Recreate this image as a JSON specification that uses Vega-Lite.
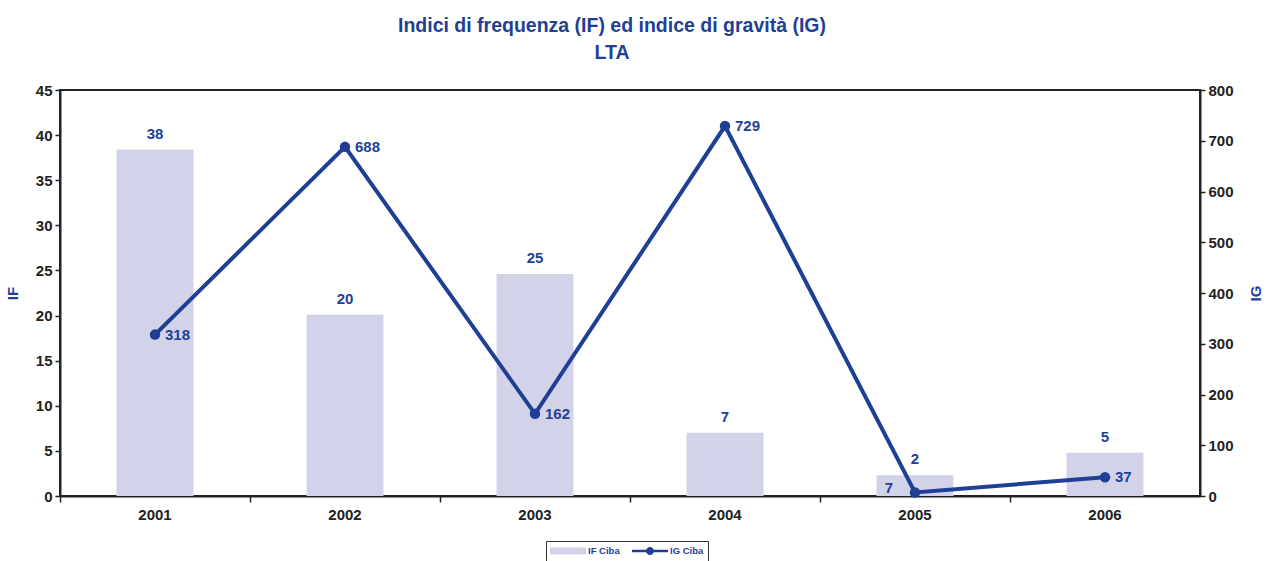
{
  "$schema": "https://vega.github.io/schema/vega-lite/v6.json",
  "width": 1140,
  "height": 406,
  "autosize": "none",
  "padding": {"left": 60, "top": 90, "right": 69, "bottom": 65},
  "background": "white",
  "title": {
    "text": "Indici di frequenza (IF) ed indice di gravità (IG)",
    "subtitle": "LTA",
    "anchor": "middle",
    "dx": -18,
    "offset": 20,
    "font": "Liberation Sans",
    "fontSize": 19.5,
    "fontWeight": "bold",
    "color": "#1f3f97",
    "subtitleFont": "Liberation Sans",
    "subtitleFontSize": 19.5,
    "subtitleFontWeight": "bold",
    "subtitleColor": "#1f3f97",
    "subtitlePadding": 7
  },
  "config": {
    "view": {"stroke": "#222", "strokeWidth": 2},
    "axis": {
      "labelFont": "Liberation Sans",
      "labelFontWeight": "bold",
      "labelFontSize": 15,
      "labelColor": "#222",
      "titleFont": "Liberation Sans",
      "titleFontWeight": "bold",
      "titleFontSize": 15,
      "titleColor": "#1f3f97",
      "domainColor": "#222",
      "domainWidth": 2,
      "tickColor": "#222",
      "tickWidth": 1.5,
      "tickSize": 5,
      "grid": false
    }
  },
  "data": {
    "values": [
      {"year": "2001", "IF": 38.4, "IG": 318},
      {"year": "2002", "IF": 20.1, "IG": 688},
      {"year": "2003", "IF": 24.6, "IG": 162},
      {"year": "2004", "IF": 7.0, "IG": 729},
      {"year": "2005", "IF": 2.3, "IG": 7},
      {"year": "2006", "IF": 4.8, "IG": 37}
    ]
  },
  "encoding": {
    "x": {
      "field": "year",
      "type": "ordinal",
      "scale": {"type": "band", "paddingInner": 0, "paddingOuter": 0}
    }
  },
  "layer": [
    {
      "layer": [
        {
          "mark": {"type": "bar", "width": {"band": 0.405}},
          "encoding": {
            "x": {
              "field": "year",
              "type": "ordinal",
              "axis": {"title": null, "labelAngle": 0, "ticks": false, "labelPadding": 11, "domain": true}
            },
            "y": {
              "field": "IF",
              "type": "quantitative",
              "scale": {"domain": [0, 45]},
              "axis": {"title": "IF", "values": [0,5,10,15,20,25,30,35,40,45], "titlePadding": 15, "labelPadding": 3}
            },
            "color": {
              "datum": "IF Ciba",
              "type": "nominal",
              "scale": {"domain": ["IF Ciba", "IG Ciba"], "range": ["#d2d3e8", "#1f3f96"]},
              "legend": {
                "title": null,
                "orient": "none",
                "legendX": 486,
                "legendY": 451,
                "direction": "horizontal",
                "strokeColor": "#333",
                "padding": 4,
                "clipHeight": 12,
                "labelFont": "Liberation Sans",
                "labelFontWeight": "bold",
                "labelFontSize": 9.5,
                "labelColor": "#1f3f97",
                "labelOffset": 2,
                "columnPadding": 12,
                "symbolSize": 1296,
                "encode": {
                  "symbols": {
                    "update": {
                      "shape": {"signal": "datum.value == 'IF Ciba' ? 'M-1,-0.2H1V0.2H-1Z' : 'M-1,-0.07H1V0.07H-1Z M0.22,0A0.22,0.22,0,1,1,-0.22,0A0.22,0.22,0,1,1,0.22,0Z'"},
                      "fill": {"signal": "datum.value == 'IF Ciba' ? '#d2d3e8' : '#1f3f96'"},
                      "strokeWidth": {"value": 0},
                      "opacity": {"value": 1}
                    }
                  }
                }
              }
            }
          }
        },
        {
          "mark": {"type": "text", "dy": -16, "font": "Liberation Sans", "fontWeight": "bold", "fontSize": 15, "color": "#1f3f97"},
          "encoding": {
            "y": {"field": "IF", "type": "quantitative"},
            "text": {"field": "IF", "type": "quantitative", "format": ".0f"}
          }
        }
      ]
    },
    {
      "layer": [
        {
          "mark": {"type": "line", "strokeWidth": 4, "point": {"size": 110, "filled": true, "color": "#1f3f96"}},
          "encoding": {
            "x": {
              "field": "year",
              "type": "ordinal",
              "axis": {"title": null, "orient": "bottom", "labels": false, "domain": false, "ticks": true, "bandPosition": 0, "tickSize": 6}
            },
            "y": {
              "field": "IG",
              "type": "quantitative",
              "scale": {"domain": [0, 800]},
              "axis": {"title": "IG", "orient": "right", "titleAngle": 270, "values": [0,100,200,300,400,500,600,700,800], "titlePadding": 30, "labelPadding": 3}
            },
            "color": {"datum": "IG Ciba", "type": "nominal"}
          }
        },
        {
          "transform": [{"filter": "datum.year != '2005'"}],
          "mark": {"type": "text", "align": "left", "dx": 10, "dy": 0, "font": "Liberation Sans", "fontWeight": "bold", "fontSize": 15, "color": "#1f3f97"},
          "encoding": {
            "y": {"field": "IG", "type": "quantitative"},
            "text": {"field": "IG", "type": "quantitative", "format": ".0f"}
          }
        },
        {
          "transform": [{"filter": "datum.year == '2005'"}],
          "mark": {"type": "text", "align": "right", "dx": -22, "dy": -4, "font": "Liberation Sans", "fontWeight": "bold", "fontSize": 15, "color": "#1f3f97"},
          "encoding": {
            "y": {"field": "IG", "type": "quantitative"},
            "text": {"field": "IG", "type": "quantitative", "format": ".0f"}
          }
        }
      ]
    }
  ],
  "resolve": {"scale": {"y": "independent"}, "axis": {"x": "independent"}}
}
